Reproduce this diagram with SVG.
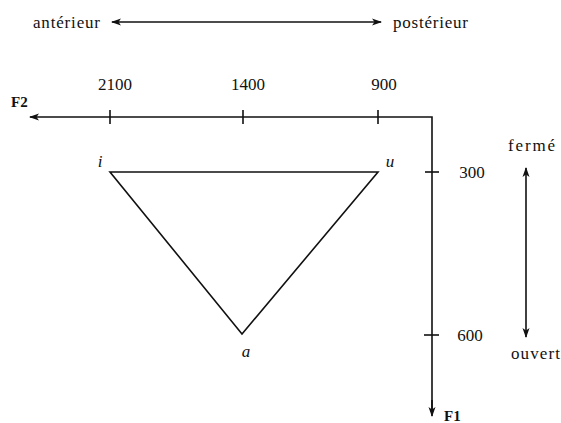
<svg xmlns="http://www.w3.org/2000/svg" width="561" height="423" viewBox="0 0 561 423">
<defs>
<marker id="ah" viewBox="0 0 10 10" refX="9" refY="5" markerWidth="10" markerHeight="10" markerUnits="userSpaceOnUse" orient="auto-start-reverse">
<path d="M0,1.5 L10,5 L0,8.5 L2.5,5 Z" fill="#111"/>
</marker>
</defs>
<rect width="561" height="423" fill="#fff"/>
<g id="labels">
<text x="33" y="28" font-family="Liberation Serif" font-size="17" fill="#111" textLength="67">antérieur</text>
<text x="393" y="28" font-family="Liberation Serif" font-size="17" fill="#111" textLength="75">postérieur</text>
<text x="508" y="151" font-family="Liberation Serif" font-size="17" fill="#111" textLength="47">fermé</text>
<text x="511" y="359" font-family="Liberation Serif" font-size="17" fill="#111" textLength="49">ouvert</text>
</g>
<g id="connectors" stroke="#111" stroke-width="1.6" fill="none">
<line x1="112" y1="22" x2="381" y2="22" marker-start="url(#ah)" marker-end="url(#ah)"/>
<line x1="526" y1="168" x2="526" y2="337" marker-start="url(#ah)" marker-end="url(#ah)"/>
</g>
<g id="axis-F2">
<g stroke="#111" stroke-width="1.6" fill="none">
<polyline points="432,410 432,117 30,117" marker-end="url(#ah)"/>
<line x1="110" y1="110" x2="110" y2="124"/>
<line x1="243" y1="110" x2="243" y2="124"/>
<line x1="378" y1="110" x2="378" y2="124"/>
</g>
<text x="115" y="90" font-family="Liberation Serif" font-size="17" fill="#111" text-anchor="middle">2100</text>
<text x="248" y="90" font-family="Liberation Serif" font-size="17" fill="#111" text-anchor="middle">1400</text>
<text x="384" y="90" font-family="Liberation Serif" font-size="17" fill="#111" text-anchor="middle">900</text>
<text x="11" y="107" font-family="Liberation Serif" font-size="15" fill="#111" font-weight="bold">F2</text>
</g>
<g id="axis-F1">
<g stroke="#111" stroke-width="1.6" fill="none">
<line x1="432" y1="400" x2="432" y2="416" marker-end="url(#ah)"/>
<line x1="425" y1="172" x2="439" y2="172"/>
<line x1="424" y1="335" x2="439" y2="335"/>
</g>
<text x="472" y="178" font-family="Liberation Serif" font-size="17" fill="#111" text-anchor="middle">300</text>
<text x="470" y="341" font-family="Liberation Serif" font-size="17" fill="#111" text-anchor="middle">600</text>
<text x="444" y="421" font-family="Liberation Serif" font-size="15" fill="#111" font-weight="bold">F1</text>
</g>
<g id="triangle">
<polygon points="110,172 378,172 242,334" stroke="#111" stroke-width="1.6" fill="none"/>
<text x="100" y="167" font-family="Liberation Serif" font-size="17" fill="#111" text-anchor="middle" font-style="italic">i</text>
<text x="390" y="167" font-family="Liberation Serif" font-size="17" fill="#111" text-anchor="middle" font-style="italic">u</text>
<text x="246" y="357" font-family="Liberation Serif" font-size="17" fill="#111" text-anchor="middle" font-style="italic">a</text>
</g>
</svg>
